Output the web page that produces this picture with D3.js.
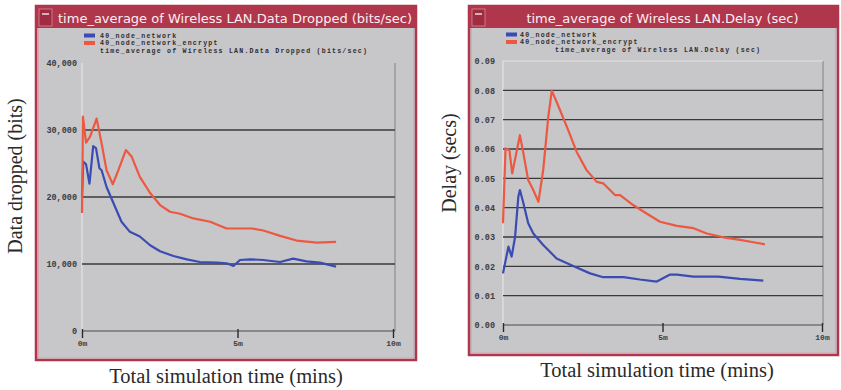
<!DOCTYPE html>
<html>
<head>
<meta charset="utf-8">
<script src="https://cdn.jsdelivr.net/npm/d3@7"></script>
<style>
  html, body { margin: 0; padding: 0; background: #ffffff; }
  svg { display: block; }
</style>
</head>
<body>
<svg id="chart" width="841" height="390"></svg>
<script>
// ---- Data (time in minutes, value) ----
const xTickValues = [0, 5, 10];
const xTickLabels = ["0m", "5m", "10m"];

const droppedTicks = [0, 10000, 20000, 30000, 40000];
const droppedTickLabels = ["0", "10,000", "20,000", "30,000", "40,000"];

const delayTicks = [0, 0.01, 0.02, 0.03, 0.04, 0.05, 0.06, 0.07, 0.08, 0.09];
const delayTickLabels = ["0.00", "0.01", "0.02", "0.03", "0.04", "0.05", "0.06", "0.07", "0.08", "0.09"];

const seriesNames = ["40_node_network", "40_node_network_encrypt"];

const droppedNetwork = [
  [0.0, 20000], [0.04, 25300], [0.13, 24900], [0.24, 22000], [0.36, 27600], [0.45, 27300],
  [0.56, 24300], [0.63, 24000], [0.79, 21500], [1.01, 19100], [1.27, 16300], [1.54, 14800],
  [1.86, 14100], [2.19, 12800], [2.51, 11900], [2.94, 11200], [3.37, 10700], [3.79, 10300],
  [4.33, 10200], [4.65, 10100], [4.87, 9700], [5.08, 10600], [5.40, 10700], [5.83, 10600],
  [6.37, 10300], [6.79, 10800], [7.22, 10400], [7.65, 10200], [8.17, 9600]
];
const droppedEncrypt = [
  [0.0, 17600], [0.03, 32000], [0.13, 28100], [0.26, 29000], [0.47, 31700], [0.63, 28000],
  [0.79, 24000], [0.99, 21900], [1.17, 24000], [1.41, 27000], [1.60, 26000], [1.86, 23000],
  [2.19, 20600], [2.51, 18800], [2.83, 17800], [3.15, 17500], [3.58, 16800], [4.12, 16300],
  [4.65, 15300], [5.08, 15300], [5.46, 15300], [5.83, 15000], [6.37, 14200], [6.90, 13500],
  [7.55, 13200], [8.17, 13300]
];
const delayNetwork = [
  [0.0, 0.0176], [0.17, 0.0267], [0.27, 0.0233], [0.38, 0.0301], [0.48, 0.0437], [0.53, 0.0460],
  [0.64, 0.0415], [0.79, 0.0347], [0.95, 0.0312], [1.26, 0.0273], [1.68, 0.0227], [2.20, 0.0201],
  [2.73, 0.0176], [3.14, 0.0163], [3.78, 0.0163], [4.29, 0.0155], [4.82, 0.0148], [5.03, 0.0160],
  [5.24, 0.0172], [5.45, 0.0172], [5.97, 0.0165], [6.75, 0.0165], [7.43, 0.0157], [8.16, 0.0151]
];
const delayEncrypt = [
  [0.0, 0.0347], [0.08, 0.0602], [0.20, 0.0596], [0.29, 0.0517], [0.53, 0.0647], [0.64, 0.0585],
  [0.79, 0.0494], [0.95, 0.0460], [1.11, 0.0420], [1.26, 0.0528], [1.42, 0.0710], [1.53, 0.0798],
  [1.68, 0.0761], [2.00, 0.0676], [2.31, 0.0590], [2.62, 0.0528], [2.94, 0.0488], [3.14, 0.0483],
  [3.51, 0.0443], [3.67, 0.0443], [4.08, 0.0409], [4.50, 0.0380], [4.92, 0.0352], [5.45, 0.0338],
  [5.97, 0.0330], [6.39, 0.0312], [6.91, 0.0299], [7.43, 0.0290], [7.85, 0.0282], [8.21, 0.0275]
];

// ---- Styling ----
const seriesColors = ["#3a4cb4", "#ec5840"];
const frameColor = "#b0364c";
const panelFill = "#c7c6c9";
const gridColor = "#3a3a3c";
const monoFont = "'Liberation Mono', 'DejaVu Sans Mono', monospace";
const serifFont = "'Liberation Serif', 'DejaVu Serif', serif";
const sansFont = "'DejaVu Sans', 'Noto Sans', sans-serif";

const svg = d3.select("#chart");

const panels = [
  {
    title: "time_average of Wireless LAN.Data Dropped (bits/sec)",
    legendTitle: "time_average of Wireless LAN.Data Dropped (bits/sec)",
    yTitle: "Data dropped (bits)",
    frame: { x0: 36, x1: 416, y0: 6, y1: 360 },
    xRange: [82, 393], yRange: [331, 63], rightEdge: 395,
    yDomain: [0, 40000], yTicks: droppedTicks, yLabels: droppedTickLabels,
    gridValues: [10000, 20000, 30000], topLine: null,
    series: [droppedNetwork, droppedEncrypt],
    legend: { swatchX: 84, textX: 100, y: 35.5, titleX: 100 },
    yTitlePos: [22, 176], xTitlePos: [226, 383], labelRight: 77, xLabelY: 346
  },
  {
    title: "time_average of Wireless LAN.Delay (sec)",
    legendTitle: "time_average of Wireless LAN.Delay (sec)",
    yTitle: "Delay (secs)",
    frame: { x0: 469, x1: 838, y0: 6, y1: 355 },
    xRange: [503, 822], yRange: [325, 61], rightEdge: 823,
    yDomain: [0, 0.09], yTicks: delayTicks, yLabels: delayTickLabels,
    gridValues: [0.01, 0.02, 0.03, 0.04, 0.05, 0.06, 0.07, 0.08], topLine: 0.09,
    series: [delayNetwork, delayEncrypt],
    legend: { swatchX: 506, textX: 520, y: 34.5, titleX: 555 },
    yTitlePos: [456, 163], xTitlePos: [657, 377], labelRight: 495, xLabelY: 340
  }
];

panels.forEach(p => {
  const g = svg.append("g");
  const f = p.frame;

  // window frame
  g.append("rect")
    .attr("x", f.x0).attr("y", f.y0)
    .attr("width", f.x1 - f.x0).attr("height", f.y1 - f.y0)
    .attr("fill", panelFill).attr("stroke", frameColor).attr("stroke-width", 2.5);
  g.append("rect")
    .attr("x", f.x0 + 2.5).attr("y", f.y0 + 2)
    .attr("width", f.x1 - f.x0 - 5).attr("height", f.y1 - f.y0 - 4)
    .attr("fill", "none").attr("stroke", "#d9a8b4").attr("stroke-width", 1);

  // title bar
  g.append("rect")
    .attr("x", f.x0 + 1).attr("y", f.y0 + 1)
    .attr("width", f.x1 - f.x0 - 2).attr("height", 21)
    .attr("fill", frameColor);
  g.append("rect")
    .attr("x", f.x0 + 3).attr("y", f.y0 + 3)
    .attr("width", 13).attr("height", 17)
    .attr("fill", "#a02c42").attr("stroke", "#d88a98").attr("stroke-width", 0.8);
  g.append("line")
    .attr("x1", f.x0 + 6).attr("x2", f.x0 + 13)
    .attr("y1", f.y0 + 8).attr("y2", f.y0 + 8)
    .attr("stroke", "#f0d8dc").attr("stroke-width", 1.5);
  g.append("text")
    .attr("x", (f.x0 + 18 + f.x1) / 2).attr("y", f.y0 + 16.5)
    .attr("text-anchor", "middle")
    .attr("font-family", sansFont).attr("font-size", 13)
    .attr("fill", "#fbeff1")
    .text(p.title);

  const x = d3.scaleLinear().domain([0, 10]).range(p.xRange);
  const y = d3.scaleLinear().domain(p.yDomain).range(p.yRange);

  // plot edges
  g.append("line")
    .attr("x1", p.xRange[0]).attr("x2", p.xRange[0])
    .attr("y1", p.yRange[1]).attr("y2", p.yRange[0])
    .attr("stroke", "#e4e3e6").attr("stroke-width", 1.2);
  g.append("line")
    .attr("x1", p.rightEdge).attr("x2", p.rightEdge)
    .attr("y1", p.yRange[1]).attr("y2", p.yRange[0])
    .attr("stroke", "#8e8d92").attr("stroke-width", 1.2);
  if (p.topLine !== null) {
    g.append("line")
      .attr("x1", p.xRange[0]).attr("x2", p.rightEdge)
      .attr("y1", y(p.topLine)).attr("y2", y(p.topLine))
      .attr("stroke", "#e4e3e6").attr("stroke-width", 1.2);
  }

  // grid lines
  g.selectAll(".grid").data(p.gridValues).enter().append("line")
    .attr("x1", p.xRange[0]).attr("x2", p.rightEdge)
    .attr("y1", d => y(d)).attr("y2", d => y(d))
    .attr("stroke", gridColor).attr("stroke-width", 1.4);

  // y tick labels
  const yAxis = d3.axisLeft(y)
    .tickValues(p.yTicks)
    .tickSize(0)
    .tickPadding(0)
    .tickFormat((d, i) => p.yLabels[i]);
  const ya = g.append("g").attr("transform", `translate(${p.labelRight},0)`).call(yAxis);
  ya.select(".domain").remove();
  ya.selectAll("text")
    .attr("font-family", monoFont).attr("font-size", 8.5).attr("font-weight", "bold")
    .attr("fill", "#3c3c40");

  // x axis
  const xAxis = d3.axisBottom(x)
    .tickValues(xTickValues)
    .tickSize(7)
    .tickPadding(2)
    .tickFormat((d, i) => xTickLabels[i]);
  const xa = g.append("g").attr("transform", `translate(0,${p.yRange[0]})`).call(xAxis);
  xa.select(".domain")
    .attr("d", `M${p.xRange[0]},0H${p.rightEdge}`)
    .attr("stroke", "#4a4a4e").attr("stroke-width", 1.2);
  xa.selectAll(".tick line").attr("stroke", "#2a2a2e").attr("stroke-width", 1.4).attr("y1", -2);
  xa.selectAll("text")
    .attr("font-family", monoFont).attr("font-size", 8).attr("font-weight", "bold")
    .attr("fill", "#3c3c40");

  // series lines
  const line = d3.line().x(d => x(d[0])).y(d => y(d[1]));
  p.series.forEach((s, i) => {
    g.append("path")
      .datum(s)
      .attr("d", line)
      .attr("fill", "none")
      .attr("stroke", seriesColors[i])
      .attr("stroke-width", 2.2)
      .attr("stroke-linejoin", "round");
  });

  // legend
  const legendFont = 6.6;
  seriesNames.forEach((name, i) => {
    const ly = p.legend.y + i * 7.5;
    g.append("rect")
      .attr("x", p.legend.swatchX).attr("y", ly - 2)
      .attr("width", 11).attr("height", 4)
      .attr("fill", seriesColors[i]);
    g.append("text")
      .attr("x", p.legend.textX).attr("y", ly + 2.3)
      .attr("font-family", monoFont).attr("font-size", legendFont).attr("font-weight", "bold")
      .attr("letter-spacing", 1.2)
      .attr("fill", "#2e2e32")
      .text(name);
  });
  g.append("text")
    .attr("x", p.legend.titleX).attr("y", p.legend.y + 17.3)
    .attr("font-family", monoFont).attr("font-size", legendFont).attr("font-weight", "bold")
    .attr("letter-spacing", 1.2)
    .attr("fill", "#2e2e32")
    .text(p.legendTitle);

  // axis titles
  g.append("text")
    .attr("transform", `translate(${p.yTitlePos[0]},${p.yTitlePos[1]}) rotate(-90)`)
    .attr("text-anchor", "middle")
    .attr("font-family", serifFont).attr("font-size", 20)
    .attr("fill", "#2a2a2a")
    .text(p.yTitle);
  g.append("text")
    .attr("x", p.xTitlePos[0]).attr("y", p.xTitlePos[1])
    .attr("text-anchor", "middle")
    .attr("font-family", serifFont).attr("font-size", 20.5)
    .attr("fill", "#2a2a2a")
    .text("Total simulation time (mins)");
});
</script>
</body>
</html>
